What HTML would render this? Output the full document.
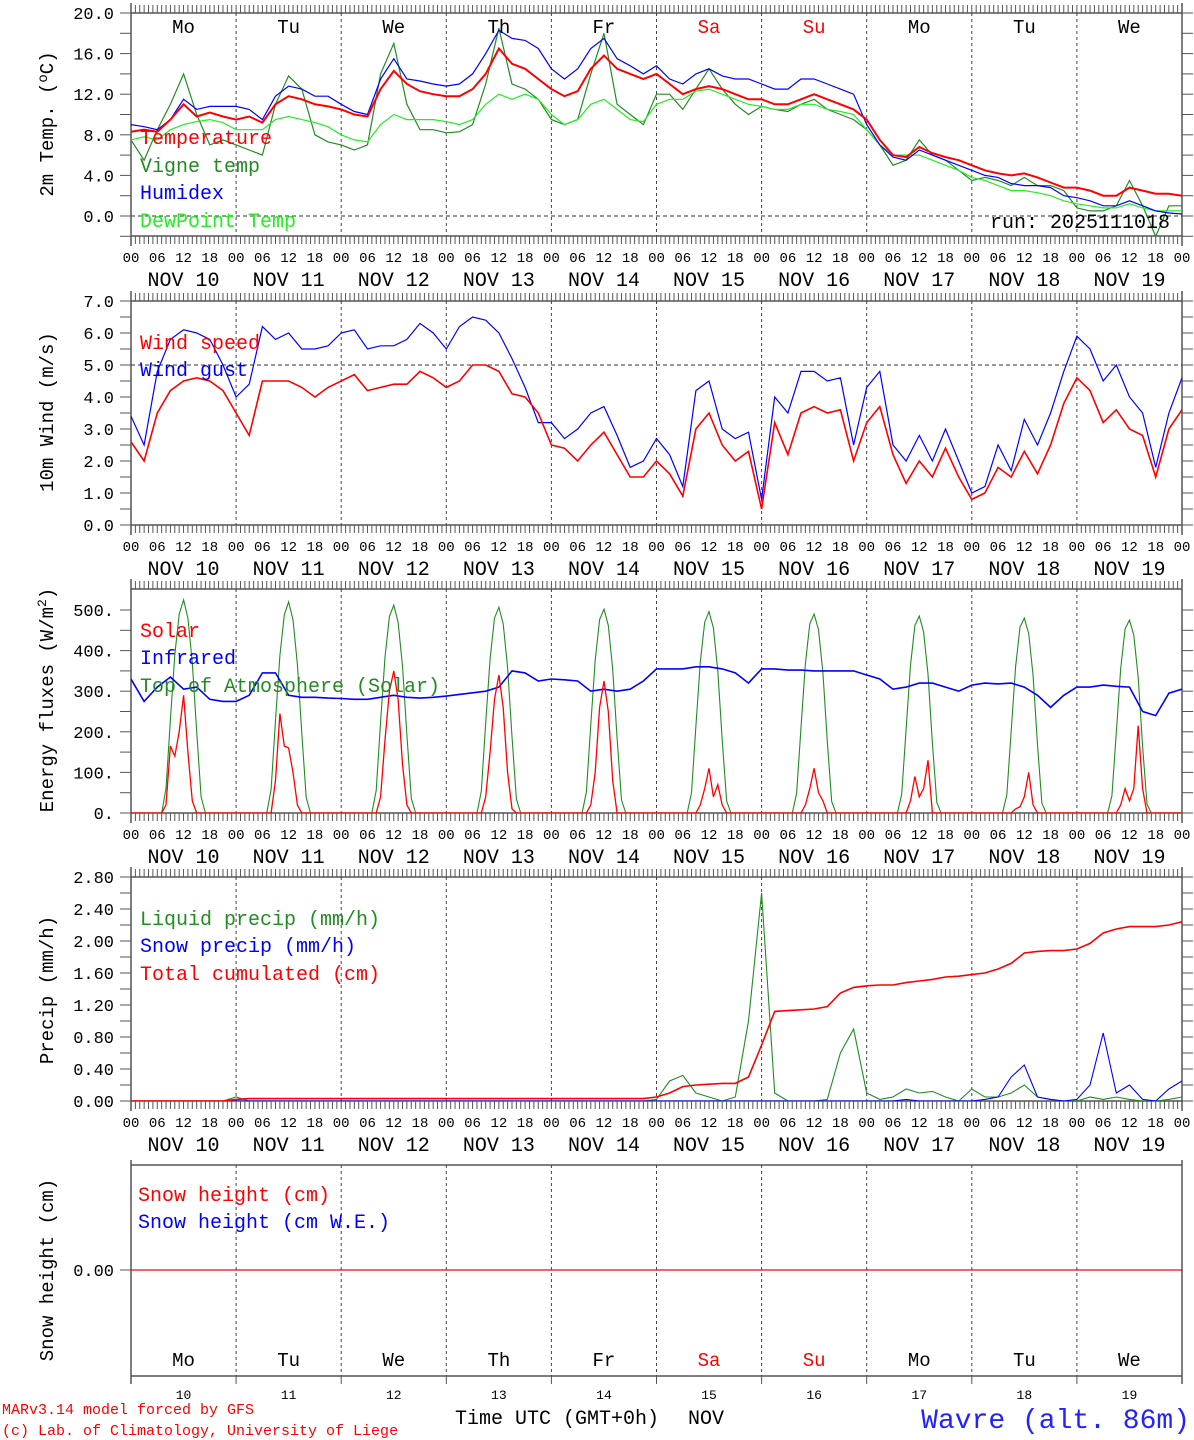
<!DOCTYPE html>
<html><head><meta charset="utf-8">
<style>
html,body{margin:0;padding:0;background:#fff;}
svg{display:block;font-family:"Liberation Mono",monospace;}
</style></head>
<body>
<svg id="chart" width="1194" height="1440" viewBox="0 0 1194 1440" xmlns="http://www.w3.org/2000/svg"></svg>
<script>
// ---------- DATA (3-hourly from NOV 10 00 UTC, 81 points) ----------
const dayNames = ["Mo","Tu","We","Th","Fr","Sa","Su","Mo","Tu","We"];
const dayNums = ["10","11","12","13","14","15","16","17","18","19"];
const hourLabels = ["00","06","12","18"];
const tempTicks = [0,4,8,12,16,20];
const windTicks = [0,1,2,3,4,5,6,7];
const fluxTicks = [0,100,200,300,400,500];
const precTicks = [0,0.4,0.8,1.2,1.6,2.0,2.4,2.8];

const temperature = [8.3,8.5,8.3,9.5,11.0,9.8,10.2,9.8, 9.5,9.8,9.2,11.0,11.8,11.5,11.0,10.8, 10.5,10.0,9.8,12.5,14.3,13.0,12.3,12.0, 11.8,11.8,12.5,14.0,16.5,15.0,14.5,13.5, 12.5,11.8,12.3,14.5,15.8,14.5,14.0,13.5, 14.0,13.0,12.0,12.5,12.8,12.5,12.0,11.5, 11.5,11.0,11.0,11.5,12.0,11.5,11.0,10.5, 9.5,7.5,6.0,5.8,6.8,6.2,5.8,5.5, 5.0,4.5,4.2,4.0,4.2,3.8,3.3,2.8, 2.8,2.5,2.0,2.0,2.8,2.5,2.2,2.2,2.0];
const humidex = [9.0,8.8,8.5,9.5,11.5,10.5,10.8,10.8, 10.8,10.5,9.5,11.8,12.8,12.5,11.8,11.8, 11.0,10.3,10.0,13.5,15.5,13.5,13.3,13.0, 12.8,13.0,14.0,16.0,18.3,17.5,17.3,16.5, 14.5,13.5,14.5,16.5,17.5,15.5,14.8,14.0, 14.8,13.5,13.0,14.0,14.5,13.8,13.5,13.5, 13.0,12.5,12.5,13.5,13.5,13.0,12.5,12.0, 9.0,7.0,5.8,5.5,6.5,6.0,5.5,5.0, 4.5,4.0,3.8,3.2,3.0,3.0,2.8,2.0, 1.8,1.5,1.0,1.0,1.5,1.0,0.5,0.3,0.2];
const vigneTemp = [7.5,5.5,8.5,11.0,14.0,10.0,7.0,7.5, 7.0,6.5,6.0,11.0,13.8,12.5,8.0,7.3, 7.0,6.5,7.0,14.0,17.0,11.0,8.5,8.5, 8.2,8.3,9.0,13.0,18.5,13.0,12.5,11.5, 9.5,9.0,9.5,14.0,18.0,11.0,10.0,9.0, 12.0,12.0,10.5,12.5,14.5,12.5,11.0,10.0, 10.8,10.5,10.3,11.0,11.5,10.5,10.0,9.5, 8.5,7.0,5.0,5.5,7.5,6.0,5.5,4.5, 3.5,3.8,3.5,3.0,3.8,3.0,3.0,2.5, 0.8,0.5,0.5,1.0,3.5,1.0,-2.0,1.0,1.0];
const dewPoint = [7.5,7.8,7.5,8.5,9.0,9.3,9.5,9.2, 8.5,8.5,8.5,9.5,9.8,9.5,9.2,8.8, 8.0,7.5,7.3,9.0,10.0,9.5,9.5,9.5, 9.3,9.0,9.5,11.0,12.0,11.5,12.0,11.5, 10.0,9.0,9.5,11.0,11.5,10.5,9.5,9.3, 11.0,11.5,11.5,12.3,12.5,12.0,11.5,11.0, 10.8,10.5,10.5,11.0,11.0,10.5,10.3,10.0, 8.5,7.0,6.0,6.0,6.0,5.5,5.0,4.5, 3.8,3.5,3.0,2.5,2.5,2.3,2.0,1.5, 1.2,1.0,0.8,0.8,1.2,0.8,0.5,0.5,0.5];

const windSpeed = [2.6,2.0,3.5,4.2,4.5,4.6,4.5,4.2, 3.5,2.8,4.5,4.5,4.5,4.3,4.0,4.3, 4.5,4.7,4.2,4.3,4.4,4.4,4.8,4.6, 4.3,4.5,5.0,5.0,4.8,4.1,4.0,3.5, 2.5,2.4,2.0,2.5,2.9,2.2,1.5,1.5, 2.0,1.6,0.9,3.0,3.5,2.5,2.0,2.3, 0.5,3.2,2.2,3.5,3.7,3.5,3.6,2.0, 3.2,3.7,2.2,1.3,2.0,1.5,2.4,1.5, 0.8,1.0,1.8,1.5,2.3,1.6,2.5,3.8, 4.6,4.2,3.2,3.6,3.0,2.8,1.5,3.0,3.6];
const windGust = [3.4,2.5,4.8,5.8,6.1,6.0,5.8,5.0, 4.0,4.4,6.2,5.8,6.0,5.5,5.5,5.6, 6.0,6.1,5.5,5.6,5.6,5.8,6.3,6.0, 5.5,6.2,6.5,6.4,6.0,5.2,4.3,3.2, 3.2,2.7,3.0,3.5,3.7,2.8,1.8,2.0, 2.7,2.2,1.2,4.2,4.5,3.0,2.7,2.9, 0.8,4.0,3.5,4.8,4.8,4.5,4.6,2.5, 4.3,4.8,2.5,2.0,2.8,2.0,3.0,2.0, 1.0,1.2,2.5,1.7,3.3,2.5,3.5,4.8, 5.9,5.5,4.5,5.0,4.0,3.5,1.8,3.5,4.6];

const infrared = [330,275,310,335,305,310,280,275, 275,290,345,345,290,285,285,283, 282,280,280,285,290,285,283,285, 288,292,296,300,310,350,345,325, 330,328,325,300,305,300,305,325, 355,355,355,360,360,355,345,320, 355,355,352,352,350,350,350,350, 340,330,305,310,320,320,310,300, 315,320,318,320,310,290,260,290, 310,310,315,312,310,250,240,295,305];
// hourly daytime values (07..17 UTC) per day
const solarDays = [
 [0,20,165,140,200,290,150,30,0,0,0],
 [0,0,80,245,165,160,100,20,0,0,0],
 [0,0,40,180,300,350,280,120,20,0,0],
 [0,0,40,150,280,340,260,100,10,0,0],
 [0,0,20,100,260,325,250,80,0,0,0],
 [0,0,0,20,60,110,40,70,20,0,0],
 [0,0,0,20,60,110,50,30,0,0,0],
 [0,0,0,30,90,40,60,130,0,0,0],
 [0,0,0,10,15,40,100,20,0,0,0],
 [0,0,0,20,60,30,60,215,60,0,0]];
const toaDays = [
 [0,60,230,390,490,525,480,370,200,40,0],
 [0,58,228,388,488,520,476,366,196,38,0],
 [0,56,225,384,484,512,470,362,192,36,0],
 [0,54,222,380,480,507,466,358,188,34,0],
 [0,52,218,376,476,502,462,354,184,32,0],
 [0,50,214,372,470,496,456,350,180,30,0],
 [0,48,210,368,466,490,452,346,176,28,0],
 [0,46,206,364,462,485,446,342,172,26,0],
 [0,44,202,360,458,480,442,338,168,24,0],
 [0,42,198,356,454,475,438,334,164,22,0]];

const totalCum = [0,0,0,0,0,0,0,0, 0.02,0.03,0.03,0.03,0.03,0.03,0.03,0.03, 0.03,0.03,0.03,0.03,0.03,0.03,0.03,0.03, 0.03,0.03,0.03,0.03,0.03,0.03,0.03,0.03, 0.03,0.03,0.03,0.03,0.03,0.03,0.03,0.03, 0.05,0.1,0.18,0.2,0.21,0.22,0.22,0.3, 0.7,1.12,1.13,1.14,1.15,1.18,1.35,1.42, 1.44,1.45,1.45,1.48,1.5,1.52,1.55,1.56, 1.58,1.6,1.65,1.72,1.85,1.87,1.88,1.88, 1.9,1.97,2.1,2.15,2.18,2.18,2.18,2.2,2.24];
const liquidPrecip = [0,0,0,0,0,0,0,0, 0.05,0,0,0,0,0,0,0, 0,0,0,0,0,0,0,0, 0,0,0,0,0,0,0,0, 0,0,0,0,0,0,0,0, 0.02,0.25,0.32,0.1,0.05,0,0.05,1.0, 2.6,0.1,0,0,0,0.02,0.6,0.9, 0.1,0.02,0.05,0.15,0.1,0.12,0.05,0, 0.15,0.05,0.05,0.1,0.2,0.05,0.02,0, 0,0.05,0.02,0.05,0.02,0,0,0.02,0.05];
const snowPrecip = [0,0,0,0,0,0,0,0, 0,0,0,0,0,0,0,0, 0,0,0,0,0,0,0,0, 0,0,0,0,0,0,0,0, 0,0,0,0,0,0,0,0, 0,0,0,0,0,0,0,0, 0,0,0,0,0,0,0,0, 0,0,0,0.02,0,0,0,0, 0,0.02,0.05,0.3,0.45,0.05,0.02,0, 0.02,0.2,0.85,0.1,0.2,0.02,0,0.15,0.25];
const snowHeight = [0,0,0,0,0,0,0,0,0,0,0];

// ---------- LAYOUT ----------
const svg = document.getElementById('chart');
const NS = "http://www.w3.org/2000/svg";
const X0 = 131, X1 = 1182;
const xT = h => X0 + h*(X1-X0)/240;
const panels = [
 {id:'temp', top:13, bot:236, y0:216, k:203/20},
 {id:'wind', top:301, bot:525, y0:525, k:224/7},
 {id:'flux', top:589, bot:813, y0:813, k:203/500},
 {id:'prec', top:877, bot:1101, y0:1101, k:224/2.8},
 {id:'snow', top:1165, bot:1376, y0:1270, k:1}
];
function el(tag, attrs, parent){
  const e = document.createElementNS(NS, tag);
  for (const a in attrs) e.setAttribute(a, attrs[a]);
  (parent||svg).appendChild(e);
  return e;
}
function txt(s, x, y, size, color, anchor, parent){
  const t = el('text', {x:x, y:y, 'font-size':size, fill:color, 'text-anchor':anchor||'start'}, parent);
  t.textContent = s;
  return t;
}
const defs = el('defs', {});
panels.forEach(p=>{
  const cp = el('clipPath', {id:'clip-'+p.id}, defs);
  el('rect', {x:X0, y:p.top, width:X1-X0, height:p.bot-p.top}, cp);
});
function yOf(p, v){ return p.y0 - v*p.k; }
function drawSeries(p, arr, color, width, name){
  const pts = arr.map((v,i)=> xT(i*3).toFixed(1)+','+yOf(p,v).toFixed(1)).join(' ');
  const pl = el('polyline', {points:pts, fill:'none', stroke:color, 'stroke-width':width, 'clip-path':'url(#clip-'+p.id+')'});
  
  
}
function drawDaySeries(p, days, color, width, name){
  const pts = [];
  for (let d=0; d<days.length; d++){
    pts.push([xT(d*24), yOf(p,0)]);
    days[d].forEach((v,h)=> pts.push([xT(d*24+7+h), yOf(p,v)]));
  }
  pts.push([xT(240), yOf(p,0)]);
  const pl = el('polyline', {points:pts.map(q=>q[0].toFixed(1)+','+q[1].toFixed(1)).join(' '), fill:'none', stroke:color, 'stroke-width':width, 'clip-path':'url(#clip-'+p.id+')'});
  
  
}
function frame(p, ticks, fmt, minorStep, name){
  const g = el('g', {});
  
  
  const bottomTicks = p.id !== 'snow';
  const ext = 10;
  el('line', {x1:X0, x2:X1, y1:p.top, y2:p.top, stroke:'#555', 'stroke-width':1.5}, g);
  el('line', {x1:X0, x2:X1, y1:p.bot, y2:p.bot, stroke:'#555', 'stroke-width':1.5}, g);
  el('line', {x1:X0, x2:X0, y1:p.top-ext+ (p.id==='snow'?5:0), y2:p.bot+(bottomTicks?ext:8), stroke:'#555', 'stroke-width':1.5}, g);
  el('line', {x1:X1, x2:X1, y1:p.top-ext+ (p.id==='snow'?5:0), y2:p.bot+(bottomTicks?ext:8), stroke:'#555', 'stroke-width':1.5}, g);
  for (let d=1; d<10; d++) el('line', {x1:xT(d*24), x2:xT(d*24), y1:p.top, y2:p.bot, stroke:'#444', 'stroke-dasharray':'3,3', 'stroke-width':1}, g);
  if (bottomTicks){
    for (let h=0; h<=240; h++){
      const x = xT(h);
      el('line', {x1:x, x2:x, y1:p.top, y2:p.top-8, stroke:'#555', 'stroke-width':1}, g);
      el('line', {x1:x, x2:x, y1:p.bot, y2:p.bot+8, stroke:'#555', 'stroke-width':1}, g);
    }
  }
  if (ticks.length>1){
    for (let v=ticks[0]-minorStep*4; v<=ticks[ticks.length-1]+1e-6; v+=minorStep){
      const y = yOf(p,v);
      if (y>p.bot+0.5 || y<p.top-0.5) continue;
      el('line', {x1:X0-11, x2:X0, y1:y, y2:y, stroke:'#555'}, g);
      el('line', {x1:X1, x2:X1+11, y1:y, y2:y, stroke:'#555'}, g);
    }
  } else {
    const y = yOf(p,ticks[0]);
    el('line', {x1:X0-11, x2:X0, y1:y, y2:y, stroke:'#555'}, g);
  }
  ticks.forEach(v=>{
    const y = yOf(p,v);
    const t = txt(fmt(v), 114, y+6, 17, '#000', 'end', g);
    
    
  });
  if (bottomTicks){
    for (let d=0; d<10; d++){
      for (let k=0;k<4;k++){
        const t = txt(hourLabels[k], xT(d*24+k*6), p.bot+26, 14, '#000', 'middle', g);
        
        
      }
      const n = txt('NOV '+dayNums[d], xT(d*24+12), p.bot+50, 20, '#000', 'middle', g);
      
      
    }
    txt('00', xT(240), p.bot+26, 14, '#000', 'middle', g);
  }
}
function yTitle(s, cy, name){
  const t = el('text', {x:0, y:0, 'font-size':19, fill:'#000', 'text-anchor':'middle', transform:'translate(53,'+cy+') rotate(-90)'});
  t.innerHTML = s;
  
  
}
function legend(s, x, y, color, name){
  const t = txt(s, x, y, 20, color);
  
  
}

// Panel 1
const P1 = panels[0];
frame(P1, tempTicks, v=>v.toFixed(1), 2, 'temperature-panel');
el('line', {x1:X0, x2:X1, y1:yOf(P1,0), y2:yOf(P1,0), stroke:'#333', 'stroke-dasharray':'4,3'});
drawSeries(P1, vigneTemp, '#228b22', 1.2, 'vigne-temp-line');
drawSeries(P1, dewPoint, '#22ee22', 1.2, 'dewpoint-line');
drawSeries(P1, humidex, '#0000ff', 1.2, 'humidex-line');
drawSeries(P1, temperature, '#ff0000', 2, 'temperature-line');
for (let d=0; d<10; d++){
  const t = txt(dayNames[d], xT(d*24+12), 33, 19, (d===5||d===6)?'#ff0000':'#000', 'middle');
  
  
}
legend('Temperature', 140, 144, '#ff0000', 'legend-temperature');
legend('Vigne temp', 140, 172, '#228b22', 'legend-vigne-temp');
legend('Humidex', 140, 199, '#0000ff', 'legend-humidex');
legend('DewPoint Temp', 140, 227, '#22ee22', 'legend-dewpoint');
const run = txt('run: 2025111018', 990, 228, 20, '#000'); 


yTitle('2m Temp. (<tspan font-size="14" dy="-6">o</tspan><tspan dy="6">C)</tspan>', 124, 'y-axis-title-temp');

// Panel 2
const P2 = panels[1];
frame(P2, windTicks, v=>v.toFixed(1), 0.5, 'wind-panel');
el('line', {x1:X0, x2:X1, y1:yOf(P2,5), y2:yOf(P2,5), stroke:'#333', 'stroke-dasharray':'4,3'});
drawSeries(P2, windGust, '#0000ff', 1.2, 'wind-gust-line');
drawSeries(P2, windSpeed, '#ff0000', 1.6, 'wind-speed-line');
legend('Wind speed', 140, 349, '#ff0000', 'legend-wind-speed');
legend('Wind gust', 140, 376, '#0000ff', 'legend-wind-gust');
yTitle('10m Wind (m/s)', 412, 'y-axis-title-wind');

// Panel 3
const P3 = panels[2];
frame(P3, fluxTicks, v=>v+'.', 50, 'flux-panel');
drawDaySeries(P3, toaDays, '#228b22', 1.1, 'toa-solar-line');
drawSeries(P3, infrared, '#0000ff', 1.6, 'infrared-line');
drawDaySeries(P3, solarDays, '#ff0000', 1.3, 'solar-line');
legend('Solar', 140, 637, '#ff0000', 'legend-solar');
legend('Infrared', 140, 664, '#0000ff', 'legend-infrared');
legend('Top of Atmosphere (Solar)', 140, 692, '#228b22', 'legend-toa');
yTitle('Energy fluxes (W/m<tspan font-size="13" dy="-7">2</tspan><tspan dy="7">)</tspan>', 700, 'y-axis-title-flux');

// Panel 4
const P4 = panels[3];
frame(P4, precTicks, v=>v.toFixed(2), 0.2, 'precip-panel');
drawSeries(P4, liquidPrecip, '#228b22', 1.1, 'liquid-precip-line');
drawSeries(P4, snowPrecip, '#0000ff', 1.1, 'snow-precip-line');
drawSeries(P4, totalCum, '#ff0000', 1.6, 'total-cumulated-line');
legend('Liquid precip (mm/h)', 140, 925, '#228b22', 'legend-liquid');
legend('Snow precip (mm/h)', 140, 952, '#0000ff', 'legend-snow-precip');
legend('Total cumulated (cm)', 140, 980, '#ff0000', 'legend-total');
yTitle('Precip (mm/h)', 990, 'y-axis-title-precip');

// Panel 5
const P5 = panels[4];
frame(P5, [0], v=>v.toFixed(2), 1, 'snow-panel');
const snowPts = snowHeight.map((v,i)=> xT(i*24).toFixed(1)+','+yOf(P5,v).toFixed(1)).join(' ');
const sl = el('polyline', {points:snowPts, fill:'none', stroke:'#ff0000', 'stroke-width':1.3});


legend('Snow height (cm)', 138, 1201, '#ff0000', 'legend-snow-height');
legend('Snow height (cm W.E.)', 138, 1228, '#0000ff', 'legend-snow-we');
yTitle('Snow height (cm)', 1270, 'y-axis-title-snow');
for (let d=0; d<=10; d++){
  el('line', {x1:xT(d*24), x2:xT(d*24), y1:P5.bot, y2:P5.bot+8, stroke:'#555'});
}
for (let d=0; d<10; d++){
  const t = txt(dayNames[d], xT(d*24+12), 1366, 19, (d===5||d===6)?'#ff0000':'#000', 'middle');
  
  
  const n = txt(dayNums[d], xT(d*24+12), 1399, 13, '#000', 'middle');
  
  
}
const xt = txt('Time UTC (GMT+0h)', 455, 1424, 20, '#000');


const nv = txt('NOV', 688, 1424, 20, '#000');


const c1 = txt('MARv3.14 model forced by GFS', 2, 1414, 15, '#ff0000');


const c2 = txt('(c) Lab. of Climatology, University of Liege', 2, 1435, 15, '#ff0000');


const loc = txt('Wavre (alt. 86m)', 1190, 1428, 28, '#2222ff', 'end');


</script>
</body></html>
